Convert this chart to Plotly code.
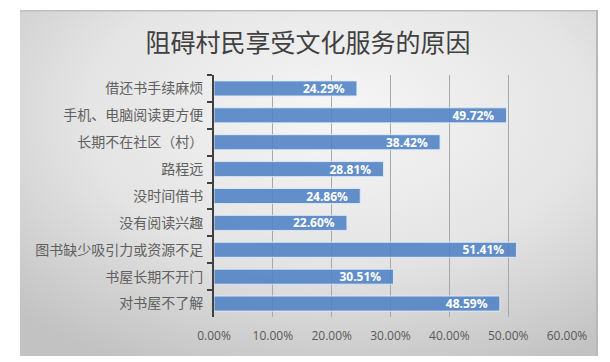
import base64
import plotly.graph_objects as go

title = "阻碍村民享受文化服务的原因"
categories = [
    "借还书手续麻烦",
    "手机、电脑阅读更方便",
    "长期不在社区（村）",
    "路程远",
    "没时间借书",
    "没有阅读兴趣",
    "图书缺少吸引力或资源不足",
    "书屋长期不开门",
    "对书屋不了解",
]
values = [0.2429, 0.4972, 0.3842, 0.2881, 0.2486, 0.2260, 0.5141, 0.3051, 0.4859]
x_ticks = [0, 0.1, 0.2, 0.3, 0.4, 0.5, 0.6]

W, H = 610, 362
L, R, T, B = 214, 43, 75, 45
pw, ph = W - L - R, H - T - B

# gradient background panel (decoration)
px0, py0, pW, pH = 20, 10, 578, 346
svg = f'''<svg xmlns="http://www.w3.org/2000/svg" width="{pW}" height="{pH}" viewBox="0 0 {pW} {pH}" preserveAspectRatio="none">
<defs>
<radialGradient id="g" cx="0.55" cy="0.3" r="0.8">
<stop offset="0" stop-color="#F6F6F6"/>
<stop offset="0.55" stop-color="#E4E4E4"/>
<stop offset="1" stop-color="#C2C2C2"/>
</radialGradient>
</defs>
<rect x="0" y="0" width="{pW}" height="{pH}" fill="url(#g)"/>
<rect x="0" y="0" width="{pW}" height="1.5" fill="#BEBEBE"/>
<rect x="{pW-2}" y="0" width="2" height="{pH}" fill="#B8B8B8"/>
</svg>'''
src = "data:image/svg+xml;base64," + base64.b64encode(svg.encode()).decode()

fig = go.Figure()
fig.add_trace(go.Bar(
    x=values,
    y=categories,
    orientation="h",
    marker=dict(color="rgba(78,130,196,0.88)", line=dict(color="rgba(225,235,248,0.9)", width=1)),
    texttemplate="%{x:.2%}\u00a0\u00a0\u00a0",
    textposition="inside",
    insidetextanchor="end",
    constraintext="none",
    textfont=dict(family="Open Sans", size=12, color="white", weight="bold"),
    cliponaxis=False,
    hoverinfo="skip",
))

fig.update_layout(
    width=W, height=H,
    margin=dict(l=L, r=R, t=T, b=B),
    paper_bgcolor="white",
    plot_bgcolor="rgba(0,0,0,0)",
    showlegend=False,
    bargap=0.44,
    title=dict(text=title, x=(308) / W, xanchor="center", y=1 - 43 / H, yanchor="middle",
               font=dict(family="Noto Sans CJK SC", size=25, color="#404040")),
    images=[dict(source=src, xref="paper", yref="paper",
                 x=(px0 - L) / pw, y=(H - B - py0) / ph,
                 sizex=pW / pw, sizey=pH / ph,
                 xanchor="left", yanchor="top", sizing="stretch", layer="below")],
    xaxis=dict(range=[0, 0.6], tickvals=x_ticks, tickformat=".2%",
               showgrid=True, gridcolor="#A8A8A8", gridwidth=1,
               zeroline=False, showline=False, ticks="", ticklabelstandoff=10,
               tickfont=dict(family="Open Sans", size=12, color="#595959")),
    yaxis=dict(autorange="reversed", showline=True, linecolor="#404040", linewidth=2,
               ticks="outside", tickson="boundaries", ticklen=5, tickcolor="#404040", tickwidth=2,
               showgrid=False, zeroline=False, ticklabelstandoff=6,
               tickfont=dict(family="Noto Sans CJK SC", size=14, color="#606060")),
)

fig.write_html("out.html", config={"displayModeBar": False},
               post_script="document.body.style.margin='0px';")
